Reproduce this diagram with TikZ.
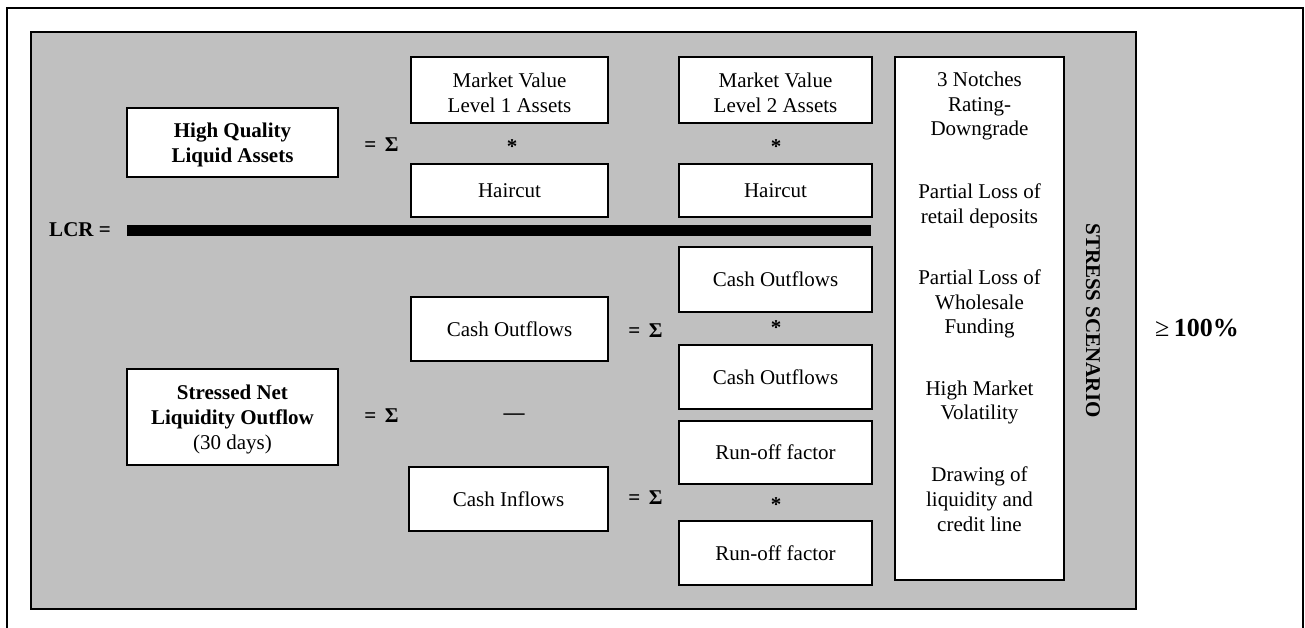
\documentclass[tikz,border=0pt]{standalone}
\usepackage{fontspec}
\setmainfont{Liberation Serif}
\definecolor{panelgray}{HTML}{C0C0C0}
\newcommand{\topstr}{\rule{0pt}{20pt}}
\begin{document}
\begin{tikzpicture}[x=1pt,y=-1pt,
  txt/.style={font=\fontsize{21}{24.8}\selectfont},
  btxt/.style={font=\fontsize{21}{24.8}\selectfont\bfseries},
  box/.style={draw, line width=1.3pt, fill=white, inner sep=0pt, align=center, txt},
  bbox/.style={box, btxt},
  lbl/.style={inner sep=0pt, align=center, txt},
  blbl/.style={inner sep=0pt, align=center, btxt},
  smallbox/.style={box, minimum width=197pt, minimum height=65pt},
  rbox/.style={box, minimum width=193pt, minimum height=64pt}]
\useasboundingbox (0,0) rectangle (1305,628);
% outer frame (bottom edge lies outside the picture)
\draw[line width=1.3pt] (7,640) -- (7,8) -- (1303,8) -- (1303,640);
% gray panel
\draw[line width=1.5pt, fill=panelgray] (31,32) rectangle (1136,609);

% numerator side
\node[bbox, minimum width=211pt, minimum height=69pt] (hqla) at (232.5,142.5) {\topstr High Quality\\Liquid Assets};
\node[blbl] (eqa) at (381.5,144.5) {= \,Σ};
\node[smallbox, minimum height=66pt] (mv1) at (509.5,90) {\topstr Market Value\\Level 1 Assets};
\node[blbl] (ast1) at (512,147) {*};
\node[smallbox, minimum height=53pt] (hc1) at (509.5,190.5) {Haircut};
\node[rbox, minimum height=66pt] (mv2) at (775.5,90) {\topstr Market Value\\Level 2 Assets};
\node[blbl] (ast2) at (776,147) {*};
\node[rbox, minimum height=53pt] (hc2) at (775.5,190.5) {Haircut};

% fraction bar
\node[blbl, anchor=east] (lcr) at (111,229.5) {LCR =};
\node[fill=black, inner sep=0pt, minimum width=744pt, minimum height=11pt] (bar) at (499,230.5) {};

% denominator side
\node[box, minimum width=211pt, minimum height=96pt] (snlo) at (232.5,417) {\topstr\textbf{Stressed Net}\\\textbf{Liquidity Outflow}\\(30 days)};
\node[blbl] (eqd) at (381.5,415.5) {= \,Σ};
\node[smallbox, minimum height=64pt] (co1) at (509.5,329) {Cash Outflows};
\node[blbl] (eqb) at (645.5,330.5) {= \,Σ};
\node[blbl] (minus) at (514,417) {—};
\node[box, minimum width=199pt, minimum height=64pt] (ci) at (508.5,499) {Cash Inflows};
\node[blbl] (eqc) at (645.5,497.5) {= \,Σ};

\node[rbox, minimum height=65pt] (co2a) at (775.5,279.5) {Cash Outflows};
\node[blbl] (ast3) at (776,328) {*};
\node[rbox] (co2b) at (775.5,377) {Cash Outflows};
\node[rbox, minimum height=63pt] (ro1) at (775.5,452.5) {Run-off factor};
\node[blbl] (ast4) at (776,505) {*};
\node[rbox] (ro2) at (775.5,553) {Run-off factor};

% stress scenario column
\node[box, minimum width=169pt, minimum height=523pt] (stress) at (979.5,318.5) {};
\node[lbl] (s1) at (979.5,106) {3 Notches\\Rating-\\Downgrade};
\node[lbl] (s2) at (979.5,205.5) {Partial Loss of\\retail deposits};
\node[lbl] (s3) at (979.5,304) {Partial Loss of\\Wholesale\\Funding};
\node[lbl] (s4) at (979.5,402.5) {High Market\\Volatility};
\node[lbl] (s5) at (979.5,499.5) {Drawing of\\liquidity and\\credit line};
\node[blbl, rotate=-90] (stresslbl) at (1093,320.5) {STRESS SCENARIO};

% result
\node[inner sep=0pt, font=\fontsize{26}{30}\selectfont] (ge) at (1197,328) {≥\,\textbf{100\%}};
\end{tikzpicture}
\end{document}
